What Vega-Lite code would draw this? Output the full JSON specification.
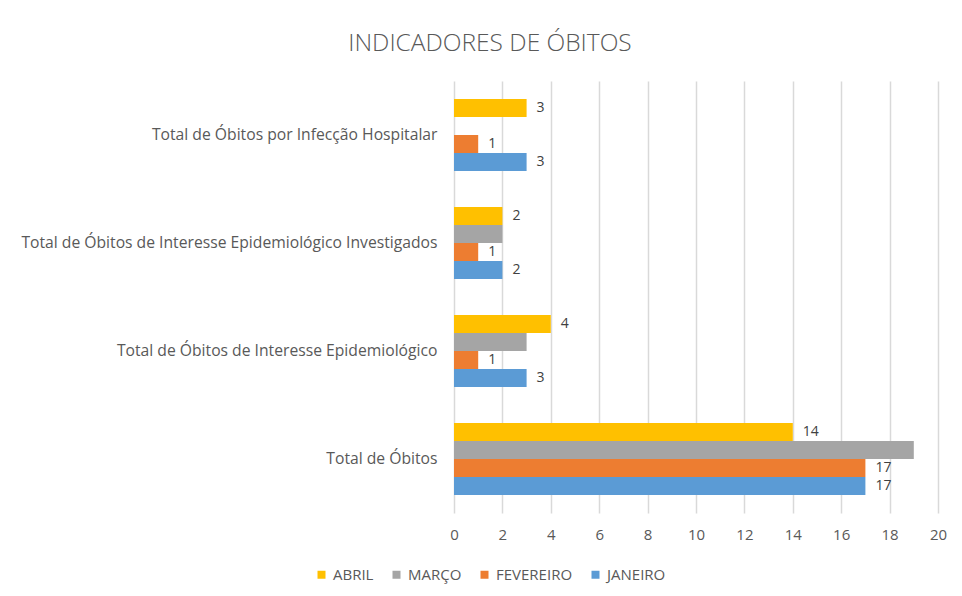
{
  "$schema": "https://vega.github.io/schema/vega-lite/v6.json",
  "width": 484,
  "height": 432,
  "autosize": {"type": "none"},
  "padding": {"left": 454, "top": 81, "right": 24, "bottom": 83},
  "background": "white",
  "title": {"text": "INDICADORES DE ÓBITOS", "font": "Open Sans", "fontSize": 24.5, "fontWeight": 300, "color": "#595959", "anchor": "middle", "dx": -206, "offset": 25},
  "config": {"view": {"stroke": null}, "font": "Open Sans"},
  "data": {"values": [
    {"indicador": "Total de Óbitos por Infecção Hospitalar", "mes": "ABRIL", "valor": 3},
    {"indicador": "Total de Óbitos por Infecção Hospitalar", "mes": "MARÇO", "valor": 0},
    {"indicador": "Total de Óbitos por Infecção Hospitalar", "mes": "FEVEREIRO", "valor": 1},
    {"indicador": "Total de Óbitos por Infecção Hospitalar", "mes": "JANEIRO", "valor": 3},
    {"indicador": "Total de Óbitos de Interesse Epidemiológico Investigados", "mes": "ABRIL", "valor": 2},
    {"indicador": "Total de Óbitos de Interesse Epidemiológico Investigados", "mes": "MARÇO", "valor": 2},
    {"indicador": "Total de Óbitos de Interesse Epidemiológico Investigados", "mes": "FEVEREIRO", "valor": 1},
    {"indicador": "Total de Óbitos de Interesse Epidemiológico Investigados", "mes": "JANEIRO", "valor": 2},
    {"indicador": "Total de Óbitos de Interesse Epidemiológico", "mes": "ABRIL", "valor": 4},
    {"indicador": "Total de Óbitos de Interesse Epidemiológico", "mes": "MARÇO", "valor": 3},
    {"indicador": "Total de Óbitos de Interesse Epidemiológico", "mes": "FEVEREIRO", "valor": 1},
    {"indicador": "Total de Óbitos de Interesse Epidemiológico", "mes": "JANEIRO", "valor": 3},
    {"indicador": "Total de Óbitos", "mes": "ABRIL", "valor": 14},
    {"indicador": "Total de Óbitos", "mes": "MARÇO", "valor": 19},
    {"indicador": "Total de Óbitos", "mes": "FEVEREIRO", "valor": 17},
    {"indicador": "Total de Óbitos", "mes": "JANEIRO", "valor": 17}
  ]},
  "encoding": {
    "y": {
      "field": "indicador", "type": "nominal",
      "sort": ["Total de Óbitos por Infecção Hospitalar", "Total de Óbitos de Interesse Epidemiológico Investigados", "Total de Óbitos de Interesse Epidemiológico", "Total de Óbitos"],
      "scale": {"paddingInner": 0.3333, "paddingOuter": 0.1667},
      "axis": {"title": null, "ticks": false, "domain": false, "labelFontSize": 15.7, "labelColor": "#595959", "labelPadding": 17, "labelLimit": 500}
    },
    "yOffset": {"field": "mes", "type": "nominal", "scale": {"domain": ["ABRIL", "MARÇO", "FEVEREIRO", "JANEIRO"]}},
    "x": {
      "field": "valor", "type": "quantitative",
      "scale": {"domain": [0, 20]},
      "axis": {"title": null, "values": [0, 2, 4, 6, 8, 10, 12, 14, 16, 18, 20], "domain": false, "ticks": false, "labelFlush": false, "gridColor": "#D9D9D9", "gridWidth": 1.5, "labelFontSize": 15, "labelColor": "#595959", "labelPadding": 14}
    }
  },
  "layer": [
    {
      "mark": {"type": "bar"},
      "encoding": {
        "color": {
          "field": "mes", "type": "nominal",
          "scale": {"domain": ["ABRIL", "MARÇO", "FEVEREIRO", "JANEIRO"], "range": ["#FFC000", "#A5A5A5", "#ED7D31", "#5B9BD5"]},
          "legend": {"title": null, "orient": "none", "legendX": -140, "legendY": 486, "direction": "horizontal", "symbolType": "square", "symbolSize": 64, "symbolStrokeWidth": 0, "labelFontSize": 15, "labelColor": "#595959", "labelOffset": 4, "columnPadding": 15}
        }
      }
    },
    {
      "transform": [{"filter": "datum.mes != 'MARÇO'"}],
      "mark": {"type": "text", "align": "left", "baseline": "middle", "dx": 10, "fontSize": 14, "color": "#404040"},
      "encoding": {"text": {"field": "valor", "type": "quantitative"}}
    }
  ]
}
